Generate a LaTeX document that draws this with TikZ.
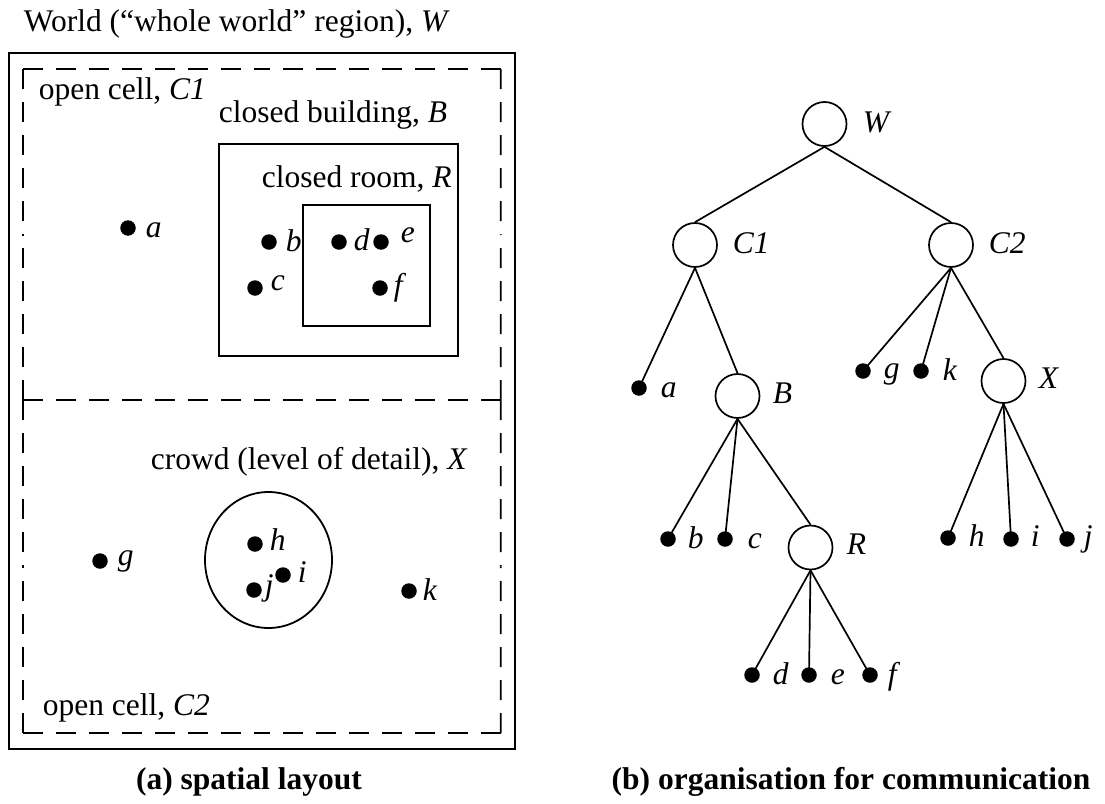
\documentclass[tikz,border=0pt]{standalone}
\usepackage{fontspec}
\setmainfont{Liberation Serif}
\usetikzlibrary{calc}
\begin{document}
\begin{tikzpicture}[x=1pt,y=-1pt,line width=1.7pt,
  every node/.style={font=\fontsize{31.5}{36}\selectfont, inner sep=0pt},
  pdot/.style={circle, fill=black, draw=none, minimum size=15.5pt, inner sep=0pt},
  lbl/.style={anchor=base west},
  tnode/.style={circle, draw, line width=1.7pt, minimum size=44pt, inner sep=0pt},
  dashline/.style={dash pattern=on 20pt off 13pt, line width=1.7pt},
  solidbox/.style={line width=1.8pt},
  conn/.style={line width=1.7pt},
  captionstyle/.style={anchor=base, font=\fontsize{31.5}{36}\selectfont\bfseries}]
\useasboundingbox (0,0) rectangle (1105,803);

% ---------- (a) spatial layout ----------
\node[lbl] (title) at (23,31) {World (“whole world” region), \textit{W}};
\draw[solidbox] (9,53) rectangle (515,749);

% dashed open cells (each side drawn from both corners towards its middle)
\coordinate (ctl) at (23,69);   \coordinate (ctr) at (500.7,69);
\coordinate (cml) at (23,400);  \coordinate (cmr) at (500.7,400);
\coordinate (cbl) at (23,733);  \coordinate (cbr) at (500.7,733);
\foreach \p/\q in {ctl/ctr, cml/cmr, cbl/cbr, ctl/cml, cml/cbl, ctr/cmr, cmr/cbr}{
  \draw[dashline] (\p) -- ($(\p)!0.5!(\q)$);
  \draw[dashline] (\q) -- ($(\p)!0.5!(\q)$);
}

\draw[solidbox] (219,144) rectangle (458,356);
\draw[solidbox] (303,205) rectangle (430,326);
\draw[solidbox] (268.5,560) ellipse [x radius=63.5, y radius=68];

\node[lbl] (tC1) at (38,99) {open cell, \textit{C1}};
\node[lbl] (tB) at (218,122) {closed building, \textit{B}};
\node[lbl] (tR) at (261,187) {closed room, \textit{R}};
\node[lbl] (tX) at (150,469) {crowd (level of detail), \textit{X}};
\node[lbl] (tC2) at (42,715) {open cell, \textit{C2}};

\node[pdot] (pa) at (128,228) {};  \node[lbl] (la) at (145,237) {\textit{a}};
\node[pdot] (pb) at (269,242) {};  \node[lbl] (lb) at (285,251) {\textit{b}};
\node[pdot] (pc) at (255,288) {};  \node[lbl] (lc) at (270,290) {\textit{c}};
\node[pdot] (pd) at (339,242) {};  \node[lbl] (ld) at (353,250) {\textit{d}};
\node[pdot] (pe) at (381,242) {};  \node[lbl] (le) at (400,242) {\textit{e}};
\node[pdot] (pf) at (380,288) {};  \node[lbl] (lf) at (393,295) {\textit{f}};
\node[pdot] (pg) at (100,561) {};  \node[lbl] (lg) at (117,565) {\textit{g}};
\node[pdot] (ph) at (255,544) {};  \node[lbl] (lh) at (269,550) {\textit{h}};
\node[pdot] (pi) at (283,575) {};  \node[lbl] (li) at (297,582) {\textit{i}};
\node[pdot] (pj) at (254,590) {};  \node[lbl] (lj) at (264,595) {\textit{j}};
\node[pdot] (pk) at (409,591) {};  \node[lbl] (lk) at (422,600) {\textit{k}};

\node[captionstyle] (capa) at (249,789) {(a) spatial layout};

% ---------- (b) organisation for communication ----------
\node[tnode] (W) at (824.5,124) {};   \node[lbl] (lW) at (862,132) {\textit{W}};
\node[tnode] (C1) at (695,245) {};    \node[lbl] (lC1) at (732,253) {\textit{C1}};
\node[tnode] (C2) at (951,245) {};    \node[lbl] (lC2) at (988,253) {\textit{C2}};
\node[tnode] (B) at (737.5,396) {};   \node[lbl] (lBt) at (772,403) {\textit{B}};
\node[tnode] (X) at (1003.5,381) {};  \node[lbl] (lXt) at (1038,388) {\textit{X}};
\node[tnode] (R) at (810.5,547.5) {}; \node[lbl] (lRt) at (846,554) {\textit{R}};

\node[pdot] (ta) at (639,388) {};  \node[lbl] (lta) at (660,397) {\textit{a}};
\node[pdot] (tg) at (863,371) {};  \node[lbl] (ltg) at (883,378) {\textit{g}};
\node[pdot] (tk) at (921,371) {};  \node[lbl] (ltk) at (942,380) {\textit{k}};
\node[pdot] (tb) at (668,539) {};  \node[lbl] (ltb) at (687,548) {\textit{b}};
\node[pdot] (tc) at (725,539) {};  \node[lbl] (ltc) at (747,548) {\textit{c}};
\node[pdot] (th) at (948,538) {};  \node[lbl] (lth) at (968,546) {\textit{h}};
\node[pdot] (ti) at (1011,539) {}; \node[lbl] (lti) at (1030,546) {\textit{i}};
\node[pdot] (tj) at (1067,539) {}; \node[lbl] (ltj) at (1083,546) {\textit{j}};
\node[pdot] (td) at (752,675) {};  \node[lbl] (ltd) at (772,684) {\textit{d}};
\node[pdot] (te) at (809,675) {};  \node[lbl] (lte) at (830,684) {\textit{e}};
\node[pdot] (tf) at (870,675) {};  \node[lbl] (ltf) at (887,684) {\textit{f}};

\draw[conn] (W.south) -- (C1.north);
\draw[conn] (W.south) -- (C2.north);
\draw[conn] (C1.south) -- (ta.center);
\draw[conn] (C1.south) -- (B.north);
\draw[conn] (C2.south) -- (tg.center);
\draw[conn] (C2.south) -- (tk.center);
\draw[conn] (C2.south) -- (X.north);
\draw[conn] (B.south) -- (tb.center);
\draw[conn] (B.south) -- (tc.center);
\draw[conn] (B.south) -- (R.north);
\draw[conn] (X.south) -- (th.center);
\draw[conn] (X.south) -- (ti.center);
\draw[conn] (X.south) -- (tj.center);
\draw[conn] (R.south) -- (td.center);
\draw[conn] (R.south) -- (te.center);
\draw[conn] (R.south) -- (tf.center);

\node[captionstyle] (capb) at (851,789) {(b) organisation for communication};
\end{tikzpicture}
\end{document}
